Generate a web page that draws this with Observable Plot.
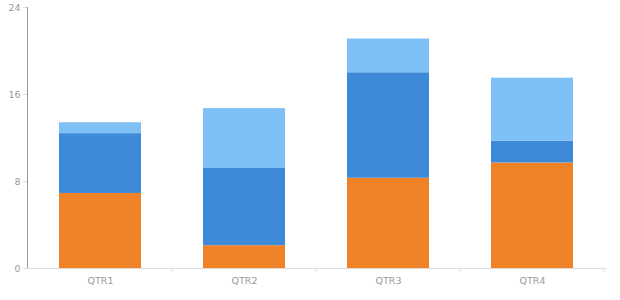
<!DOCTYPE html>
<html>
<head>
<meta charset="utf-8">
<script src="https://cdn.jsdelivr.net/npm/d3@7"></script>
<script src="https://cdn.jsdelivr.net/npm/@observablehq/plot@0.6"></script>
<style>
  html, body { margin: 0; padding: 0; background: #fff; }
  #chart svg { display: block; }
</style>
</head>
<body>
<div id="chart"></div>
<script>
const quarters = ["QTR1", "QTR2", "QTR3", "QTR4"];
const seriesNames = ["Series A", "Series B", "Series C"];
const seriesA = [6.9, 2.1, 8.3, 9.7];   // orange (bottom)
const seriesB = [5.5, 7.1, 9.7, 2.0];   // dark blue (middle)
const seriesC = [1.0, 5.5, 3.1, 5.8];   // light blue (top)
const yTicks = [0, 8, 16, 24];
const colors = ["#f08228", "#3d8ad8", "#7ebff5"];

const allSeries = [seriesA, seriesB, seriesC];
const rows = [];
seriesNames.forEach((s, si) => {
  quarters.forEach((q, qi) => rows.push({quarter: q, series: s, value: allSeries[si][qi]}));
});

const plot = Plot.plot({
  width: 620,
  height: 300,
  marginLeft: 27,
  marginRight: 14,
  marginTop: 7,
  marginBottom: 32,
  style: {fontFamily: "DejaVu Sans, sans-serif", fontSize: "9.5px", color: "#999", background: "#fff"},
  x: {domain: quarters, paddingInner: 0.43, paddingOuter: 0.215, label: null, tickSize: 0, tickPadding: 9},
  y: {domain: [0, 24], ticks: yTicks, tickSize: 4, tickPadding: 3, label: null, line: true},
  color: {domain: seriesNames, range: colors},
  marks: [
    Plot.ruleY([0], {stroke: "#ddd"}),
    Plot.barY(rows, {x: "quarter", y: "value", fill: "series", order: seriesNames, inset: 0})
  ]
});

document.getElementById("chart").appendChild(plot);

// Category boundary ticks on the x axis, placed with the plot's own band scale
const xs = plot.scale("x");
const ys = plot.scale("y");
const svg = d3.select(plot);
const y0 = ys.apply(0);
const half = (xs.step - xs.bandwidth) / 2;
const bounds = quarters.map(q => xs.apply(q) + xs.bandwidth + half);
svg.append("g").selectAll("line").data(bounds).join("line")
  .attr("x1", d => d).attr("x2", d => d)
  .attr("y1", y0).attr("y2", y0 + 4)
  .attr("stroke", "#ddd");
svg.selectAll("[aria-label='y-axis tick'], [aria-label='y-axis line']").attr("stroke", "#ddd");
</script>
</body>
</html>
